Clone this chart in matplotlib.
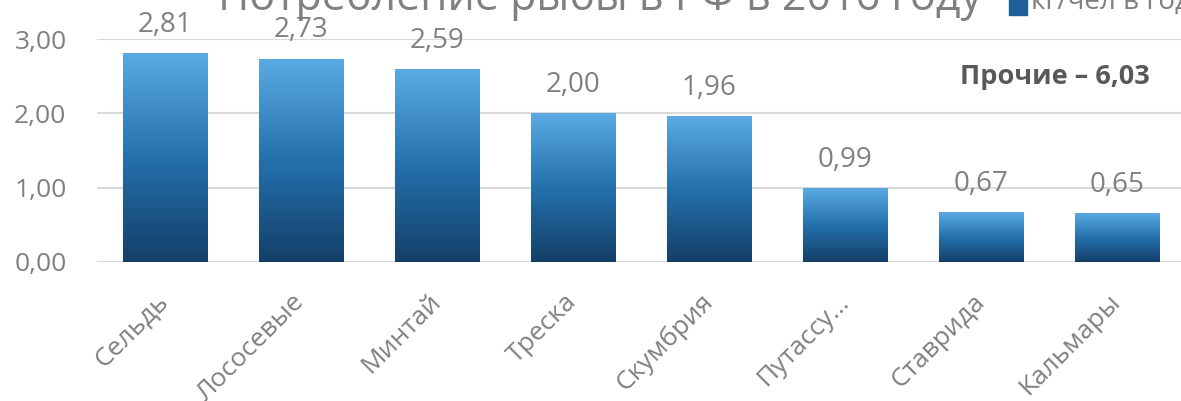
import matplotlib.pyplot as plt
import numpy as np
from matplotlib.colors import LinearSegmentedColormap
from matplotlib.patches import Rectangle

plt.rcParams['font.family'] = ['Open Sans', 'DejaVu Sans']

categories = ['Сельдь', 'Лососевые', 'Минтай', 'Треска', 'Скумбрия', 'Путассу…', 'Ставрида', 'Кальмары']
values = [2.81, 2.73, 2.59, 2.00, 1.96, 0.99, 0.67, 0.65]
value_labels = ['2,81', '2,73', '2,59', '2,00', '1,96', '0,99', '0,67', '0,65']
yticks = [0, 1, 2, 3]
ytick_labels = ['0,00', '1,00', '2,00', '3,00']
title = 'Потребление рыбы в РФ в 2016 году'
legend_label = 'кг/чел в год'
note = 'Прочие – 6,03'

W, H = 1181, 401
fig = plt.figure(figsize=(W / 100, H / 100), dpi=100)
ax = fig.add_axes([97 / W, (H - 262) / H, (1185 - 97) / W, (262 - 39) / H])

gray = '#808080'
# градиент столбцов: снизу тёмно-синий, сверху голубой
cmap = LinearSegmentedColormap.from_list('bar', ['#143f68', '#2470ad', '#5baae4'])
grad = np.linspace(0, 1, 256).reshape(-1, 1)

x = np.arange(len(categories))
bars = ax.bar(x, values, width=0.62, color='none', zorder=2)
for b, lab in zip(bars, value_labels):
    x0, w, h = b.get_x(), b.get_width(), b.get_height()
    ax.imshow(grad, extent=[x0, x0 + w, 0, h], origin='lower', aspect='auto',
              cmap=cmap, zorder=2)
    ax.annotate(lab, (x0 + w / 2, h), xytext=(0, 10.5), textcoords='offset points',
                ha='center', va='bottom', fontsize=20, color=gray)

ax.set_xlim(-0.5, len(categories) - 0.5)
ax.set_ylim(0, 3)
ax.set_yticks(yticks)
ax.set_yticklabels(ytick_labels, fontsize=19, color=gray)
ax.set_xticks(x)
ax.set_xticklabels(categories, fontsize=19, color=gray, rotation=45,
                   ha='right', va='center', rotation_mode='anchor')
ax.tick_params(axis='y', length=0, pad=22)
ax.tick_params(axis='x', length=0, pad=26)
ax.grid(axis='y', color='#d9d9d9', lw=1.5, zorder=0)
ax.set_axisbelow(True)
for s in ax.spines.values():
    s.set_visible(False)

ax.text(0.88, 0.83, note, transform=ax.transAxes, ha='center', va='center',
        fontsize=19.5, fontweight='bold', color='#595959')

# заголовок и легенда срезаны верхним краем, как в исходнике
fig.text(600 / W, (H - 10) / H, title, ha='center', va='baseline', fontsize=31, color=gray)
fig.patches.append(Rectangle((1009 / W, (H - 15) / H), 18 / W, 20 / H,
                             transform=fig.transFigure, color='#1f5f99'))
fig.text(1031 / W, (H - 9) / H, legend_label, ha='left', va='baseline', fontsize=20, color=gray)

fig.savefig('out.png', dpi=100)
